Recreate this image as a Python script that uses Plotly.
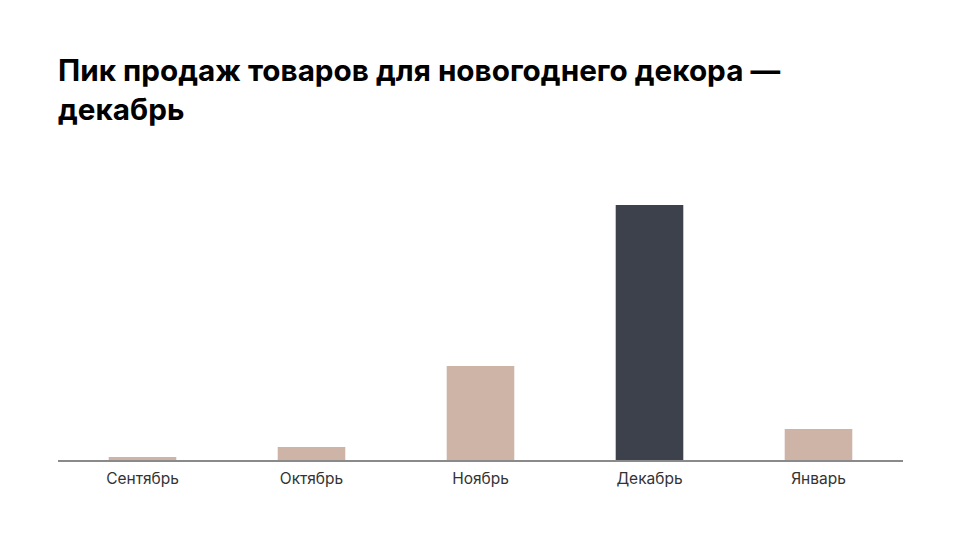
import plotly.graph_objects as go

months = ["Сентябрь", "Октябрь", "Ноябрь", "Декабрь", "Январь"]
sales_index = [1.2, 5.1, 36.9, 100, 12.2]
highlight = "Декабрь"
title_text = "Пик продаж товаров для новогоднего декора —<br>декабрь"

colors = ["#3D414B" if m == highlight else "#CDB4A7" for m in months]

fig = go.Figure(go.Bar(x=months, y=sales_index, marker_color=colors,
                       marker_line_width=0, hoverinfo="x+y"))

fig.update_layout(
    width=960, height=540,
    paper_bgcolor="white", plot_bgcolor="white",
    margin=dict(l=58, r=57, t=160, b=80),
    bargap=0.6,
    showlegend=False,
    title=dict(text=title_text, x=58/960, xanchor="left", xref="container",
               y=1-81/540, yanchor="top", yref="container",
               font=dict(family="Inter", size=29.7, color="#000000", weight="bold")),
    xaxis=dict(showline=True, linecolor="#8A8A8A", linewidth=2, ticks="",
               showgrid=False, ticklabelstandoff=3,
               tickfont=dict(family="Inter", size=15.5, color="#333333"),
               fixedrange=True),
    yaxis=dict(visible=False, range=[0, 100*300/255], showgrid=False, fixedrange=True),
)

fig.write_html("out.html")
